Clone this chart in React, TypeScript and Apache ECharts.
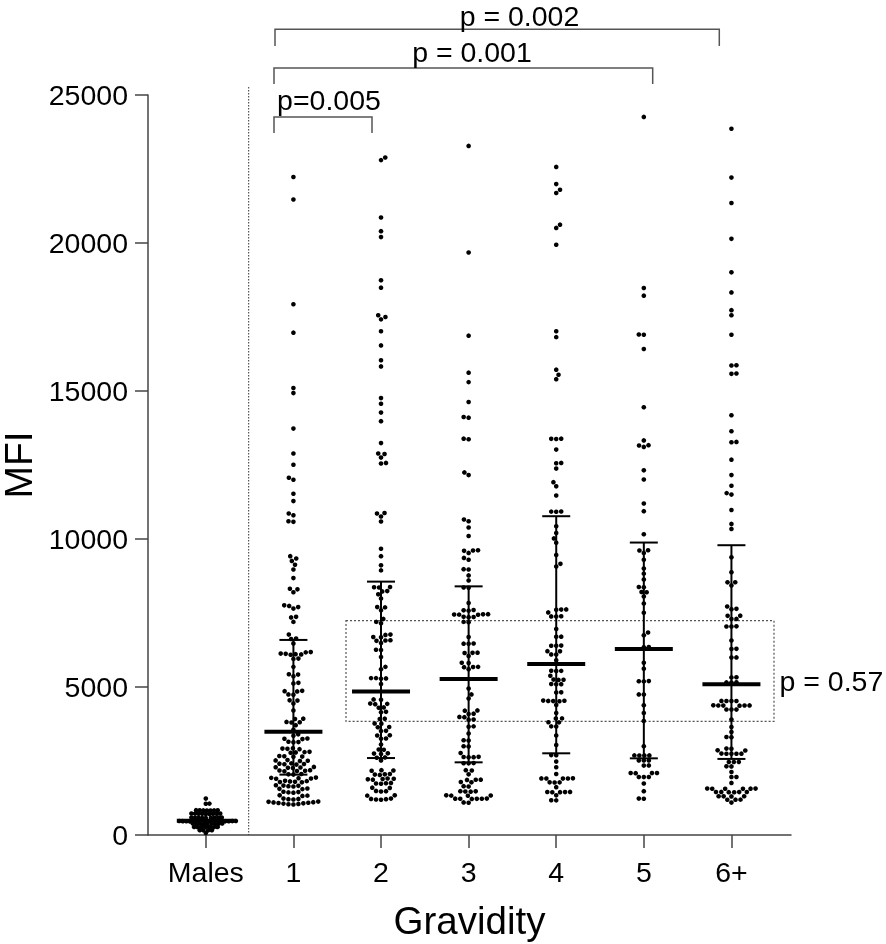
import React, { useEffect, useRef } from "react";
import * as echarts from "echarts";

const categories = ["Males", "1", "2", "3", "4", "5", "6+"];
const yTicks = [0, 5000, 10000, 15000, 20000, 25000];

const males = [1230, 1060, 1055, 838, 836, 834, 832, 830, 828, 826, 726, 724, 722, 720, 718, 716, 714, 712, 710,
  592, 590, 588, 586, 584, 582, 580, 578, 576, 476, 474, 472, 470, 468, 466, 464, 462, 460,
  388, 386, 384, 382, 380, 378, 376, 374, 372, 272, 270, 268, 266, 264, 262, 260, 162, 160, 158, 156, 68];

const g1 = [22230, 21470, 17930, 16970, 15100, 14930, 13730, 12890, 12510, 12070, 12000, 11530, 11280, 10860, 10800, 10600, 10580,
  9420, 9340, 9260, 9130, 8970, 8680, 8320, 8300, 8200, 7760, 7740, 7700, 7650, 7370, 7350, 7200, 6770, 6640, 6620, 6470,
  6180, 6170, 6130, 6120, 6110, 6100, 6090, 5960, 5950, 5680, 5430, 5420, 5360, 5140, 5120, 4870, 4860, 4850, 4750, 4740,
  4550, 4540, 4440, 4210, 3930, 3920, 3820, 3810, 3800, 3710, 3560,
  3400, 3350, 3260, 3250, 3240, 3150, 3140, 3130, 2930, 2920, 2910, 2900, 2810, 2800, 2790, 2780, 2670, 2660, 2650, 2640,
  2530, 2520, 2510, 2500, 2420, 2410, 2400, 2390, 2380, 2300, 2290, 2280, 2270, 2260, 2190, 2180, 2170, 2160, 2150,
  2060, 2050, 2040, 1940, 1930, 1920, 1910, 1900, 1830, 1820, 1810, 1800, 1790, 1780, 1680, 1670, 1660, 1650, 1640,
  1570, 1560, 1550, 1460, 1450, 1440, 1430, 1340, 1330, 1320, 1230, 1220, 1210, 1200,
  1130, 1120, 1110, 1100, 1090, 1080, 1070, 1060, 1050, 1040, 1030];

const g2 = [22890, 22800, 20860, 20400, 20200, 18740, 18490, 17560, 17500, 17420, 17020, 16540, 16040, 15830, 14760, 14570,
  14270, 13980, 13240, 12890, 12870, 12750, 12570, 12550, 10880, 10860, 10760, 10590, 9670, 9420, 9110, 8940,
  8380, 8370, 8360, 8240, 8230, 8130, 7990, 7700, 7690, 7590, 7300, 7200, 7150, 6770, 6760, 6690, 6680, 6580, 6570, 6560,
  6490, 6260, 6250, 6010, 5680, 5600, 5300, 5300, 5290, 5280, 5100,
  4580, 4570, 4440, 4430, 4420, 4310, 4300, 4160, 4150, 3930, 3920, 3770, 3760, 3650, 3640, 3520, 3510, 3370, 3360,
  3260, 3250, 3060, 2890, 2880, 2760, 2750, 2740, 2620, 2610, 2520, 2190, 2180, 2170, 2060, 2050, 2040, 2030,
  1910, 1900, 1890, 1880, 1870, 1760, 1750, 1740, 1730, 1600, 1590, 1490, 1480, 1470, 1340, 1330, 1230, 1220, 1210, 1200, 1190];

const g3 = [23280, 19680, 16870, 15620, 15300, 14630, 14120, 14100, 13390, 13370, 12250, 12160, 10660, 10600, 10390, 10100,
  9620, 9610, 9600, 9530, 9360, 9300, 8980, 8970, 8770, 8600, 8360, 8350, 7840, 7600, 7590, 7580, 7460, 7455, 7450, 7445,
  7440, 7370, 7365, 7360, 7200, 7190, 6690, 6470, 6465, 6460, 6160, 6155, 6150, 6050, 5820, 5810, 5680, 5675, 5670, 5600,
  4950, 4750, 4610, 4210, 4200, 4100, 4090, 3990, 3980, 3900, 3890, 3670, 3660, 3430, 3200, 3190, 3000, 2990, 2770,
  2640, 2635, 2630, 2625, 2430, 2425, 2420, 2190, 2180, 2050, 1870, 1865, 1860, 1790, 1780, 1650, 1640,
  1480, 1475, 1470, 1465, 1340, 1335, 1330, 1325, 1230, 1228, 1226, 1224, 1222, 1220, 1100, 1090];

const g4 = [22570, 21990, 21800, 21690, 20620, 20510, 19940, 17020, 16820, 15720, 15550, 15400, 13390, 13385, 13380, 13020,
  12570, 12560, 12380, 11920, 11780, 11470, 10930, 10925, 10920, 10430, 10200, 10020, 9870, 9460, 9160, 9070,
  7620, 7615, 7610, 7520, 7390, 7385, 7380, 6960, 6700, 6695, 6400, 6395, 6390, 6210, 6205, 6100, 6095, 5900,
  5550, 5545, 5540, 5380, 5250, 5245, 5240, 5100, 5095, 5090, 4820, 4815, 4540, 4535, 4530, 4525, 4520, 4390, 4120,
  3940, 3935, 3810, 3805, 3670, 3665, 3360, 3040, 2700, 2695, 2480, 2290, 2060, 1915, 1912, 1910, 1908, 1905,
  1780, 1778, 1775, 1615, 1455, 1453, 1450, 1448, 1445, 1340, 1175, 1170];

const g5 = [24260, 18480, 18220, 16910, 16900, 16420, 14450, 13330, 13170, 13160, 13110, 12320, 12010, 11200, 10940, 10160,
  9620, 9610, 9530, 9300, 9000, 8830, 8630, 8380, 8370, 8210, 8200, 8060, 7820, 7510, 6840, 6750, 6350, 6340,
  5820, 5620, 5200, 5195, 5190, 4750, 4745, 4380, 4120, 3850, 3000, 2690, 2688, 2686, 2684, 2520, 2518, 2516,
  2350, 2345, 2095, 2093, 2091, 2089, 1960, 1958, 1956, 1740, 1480, 1230, 1225];

const g6 = [23860, 22210, 21350, 20140, 19010, 18330, 17730, 17560, 16900, 15870, 15860, 15590, 15580, 14180, 13640, 13280,
  13270, 12680, 12160, 11800, 11550, 11500, 10980, 10510, 10340, 9380, 8880, 8540, 8535, 8430, 7720, 7640, 7630,
  7410, 7405, 7300, 7295, 7050, 7045, 7040, 6570, 6290, 6280, 6000, 5995, 5330, 5325, 5160, 5155, 5150,
  4530, 4528, 4526, 4524, 4380, 4378, 4376, 4374, 4372, 4370, 4240, 4238, 4236, 3900, 3650, 3480, 3310, 3305,
  2920, 2915, 2860, 2855, 2750, 2748, 2746, 2744, 2742, 2470, 2468, 2466, 2320, 2318, 2130, 1960, 1958, 1760,
  1570, 1568, 1566, 1564, 1562, 1560, 1455, 1453, 1451, 1449, 1447, 1445, 1310, 1308, 1306, 1304, 1195, 1193, 1191, 1095];

const groups = [males, g1, g2, g3, g4, g5, g6];
const medians = [480, 3490, 4845, 5270, 5780, 6285, 5090];
const q1s = [265, 2040, 2600, 2455, 2760, 2590, 2570];
const q3s = [730, 6590, 8560, 8400, 10770, 9880, 9790];

const pLabels = ["p = 0.002", "p = 0.001", "p=0.005", "p = 0.57"];

const GRID = { left: 148, top: 95, width: 643, height: 740 };
const X_MIN = -0.66;
const X_MAX = 6.68;
const Y_MAX = 25000;
const FONT = "'Liberation Sans', Arial, Helvetica, sans-serif";
const SWARM_GAP = [3.6, 5, 5, 5, 5, 5, 5];

function swarm(values: number[], center: number, yScale: number, xScale: number, D: number) {
  const sorted = values.slice().sort((a, b) => a - b);
  const placed: { x: number; y: number }[] = [];
  const out: number[][] = [];
  sorted.forEach((v, i) => {
    const y = v * yScale;
    const near = placed.filter((p) => Math.abs(p.y - y) < D);
    const cands = [0];
    near.forEach((p) => {
      const dx = Math.sqrt(Math.max(0, D * D - (p.y - y) * (p.y - y)));
      cands.push(p.x + dx, p.x - dx);
    });
    cands.sort((a, b) => Math.abs(a) - Math.abs(b) || (i % 2 ? a - b : b - a));
    let best = cands[cands.length - 1];
    for (const c of cands) {
      if (near.every((p) => (p.x - c) ** 2 + (p.y - y) ** 2 >= D * D - 1e-6)) {
        best = c;
        break;
      }
    }
    placed.push({ x: best, y });
    out.push([center + best / xScale, v]);
  });
  return out;
}

export default function App() {
  const ref = useRef<HTMLDivElement>(null);
  useEffect(() => {
    const chart = echarts.init(ref.current!, null, { renderer: "svg" });
    const yScale = GRID.height / Y_MAX;
    const xScale = GRID.width / (X_MAX - X_MIN);
    const points: number[][] = [];
    groups.forEach((g, i) => swarm(g, i, yScale, xScale, SWARM_GAP[i]).forEach((p) => points.push(p)));
    const stats = medians.map((m, i) => [i, m, q1s[i], q3s[i]]);
    const axisColor = "#444";
    const option: any = {
      animation: false,
      grid: { ...GRID, containLabel: false, outerBoundsMode: "none" },
      xAxis: {
        type: "value",
        min: X_MIN,
        max: X_MAX,
        name: "Gravidity",
        nameLocation: "middle",
        nameGap: 66,
        nameTextStyle: { fontSize: 38.5, color: "#000", fontFamily: FONT },
        axisLine: { onZero: false, lineStyle: { color: axisColor, width: 1.5 } },
        axisTick: { show: true, length: 13, customValues: [0, 1, 2, 3, 4, 5, 6], lineStyle: { color: axisColor, width: 1.5 } },
        axisLabel: {
          customValues: [0, 1, 2, 3, 4, 5, 6],
          formatter: (v: number) => categories[Math.round(v)] ?? "",
          fontSize: 28.5,
          color: "#000",
          fontFamily: FONT,
          margin: 22,
        },
        splitLine: { show: false },
      },
      yAxis: {
        type: "value",
        min: 0,
        max: Y_MAX,
        interval: 5000,
        name: "MFI",
        nameLocation: "middle",
        nameGap: 110,
        nameTextStyle: { fontSize: 39, lineHeight: 34, color: "#000", fontFamily: FONT },
        axisLine: { show: true, onZero: false, lineStyle: { color: axisColor, width: 1.5 } },
        axisTick: { show: true, length: 13, lineStyle: { color: axisColor, width: 1.5 } },
        axisLabel: { fontSize: 28.5, color: "#000", fontFamily: FONT, margin: 20, formatter: (v: number) => (yTicks.includes(v) ? String(v) : "") },
        splitLine: { show: false },
      },
      series: [
        {
          type: "scatter",
          data: points,
          symbol: "circle",
          symbolSize: 4.6,
          itemStyle: { color: "#000", opacity: 1 },
          silent: true,
          z: 2,
        },
        {
          type: "custom",
          data: stats,
          z: 3,
          silent: true,
          renderItem: (params: any, api: any) => {
            const x = api.value(0);
            const pm = api.coord([x, api.value(1)]);
            const pl = api.coord([x, api.value(2)]);
            const pu = api.coord([x, api.value(3)]);
            const st = { stroke: "#000", lineWidth: 2 };
            return {
              type: "group",
              children: [
                { type: "line", shape: { x1: pl[0], y1: pl[1], x2: pu[0], y2: pu[1] }, style: st },
                { type: "line", shape: { x1: pl[0] - 14, y1: pl[1], x2: pl[0] + 14, y2: pl[1] }, style: st },
                { type: "line", shape: { x1: pu[0] - 14, y1: pu[1], x2: pu[0] + 14, y2: pu[1] }, style: st },
                { type: "line", shape: { x1: pm[0] - 29, y1: pm[1], x2: pm[0] + 29, y2: pm[1] }, style: { stroke: "#000", lineWidth: 4 } },
              ],
            };
          },
        },
      ],
    };
    chart.setOption(option);

    const brStyle = { stroke: "#555", lineWidth: 1.5, fill: "none" };
    const txt = (text: string, x: number, y: number, align: string) => ({
      type: "text",
      x,
      y,
      style: { text, fontSize: 28.5, lineHeight: 28, fontFamily: FONT, fill: "#000", align, verticalAlign: "middle" },
      silent: true,
    });
    chart.setOption({
      graphic: [
        { type: "polyline", shape: { points: [[275, 46], [275, 29.3], [719.3, 29.3], [719.3, 46]] }, style: brStyle, silent: true },
        { type: "polyline", shape: { points: [[274, 84], [274, 68], [652.7, 68], [652.7, 84]] }, style: brStyle, silent: true },
        { type: "polyline", shape: { points: [[274, 133], [274, 117], [372, 117], [372, 133]] }, style: brStyle, silent: true },
        txt(pLabels[0], 519.5, 16, "center"),
        txt(pLabels[1], 472, 52, "center"),
        txt(pLabels[2], 329, 99.5, "center"),
        txt(pLabels[3], 779.5, 681, "left"),
        { type: "line", shape: { x1: 248.7, y1: 87, x2: 248.7, y2: 835 }, style: { stroke: "#333", lineWidth: 1, lineDash: [1.5, 1.5] }, silent: true },
        { type: "rect", shape: { x: 346, y: 620.7, width: 428, height: 100.6 }, style: { stroke: "#555", fill: "none", lineWidth: 1.2, lineDash: [2, 2] }, silent: true },
      ],
    });
    return () => chart.dispose();
  }, []);
  return <div ref={ref} style={{ position: "fixed", left: 0, top: 0, width: 886, height: 944 }} />;
}
